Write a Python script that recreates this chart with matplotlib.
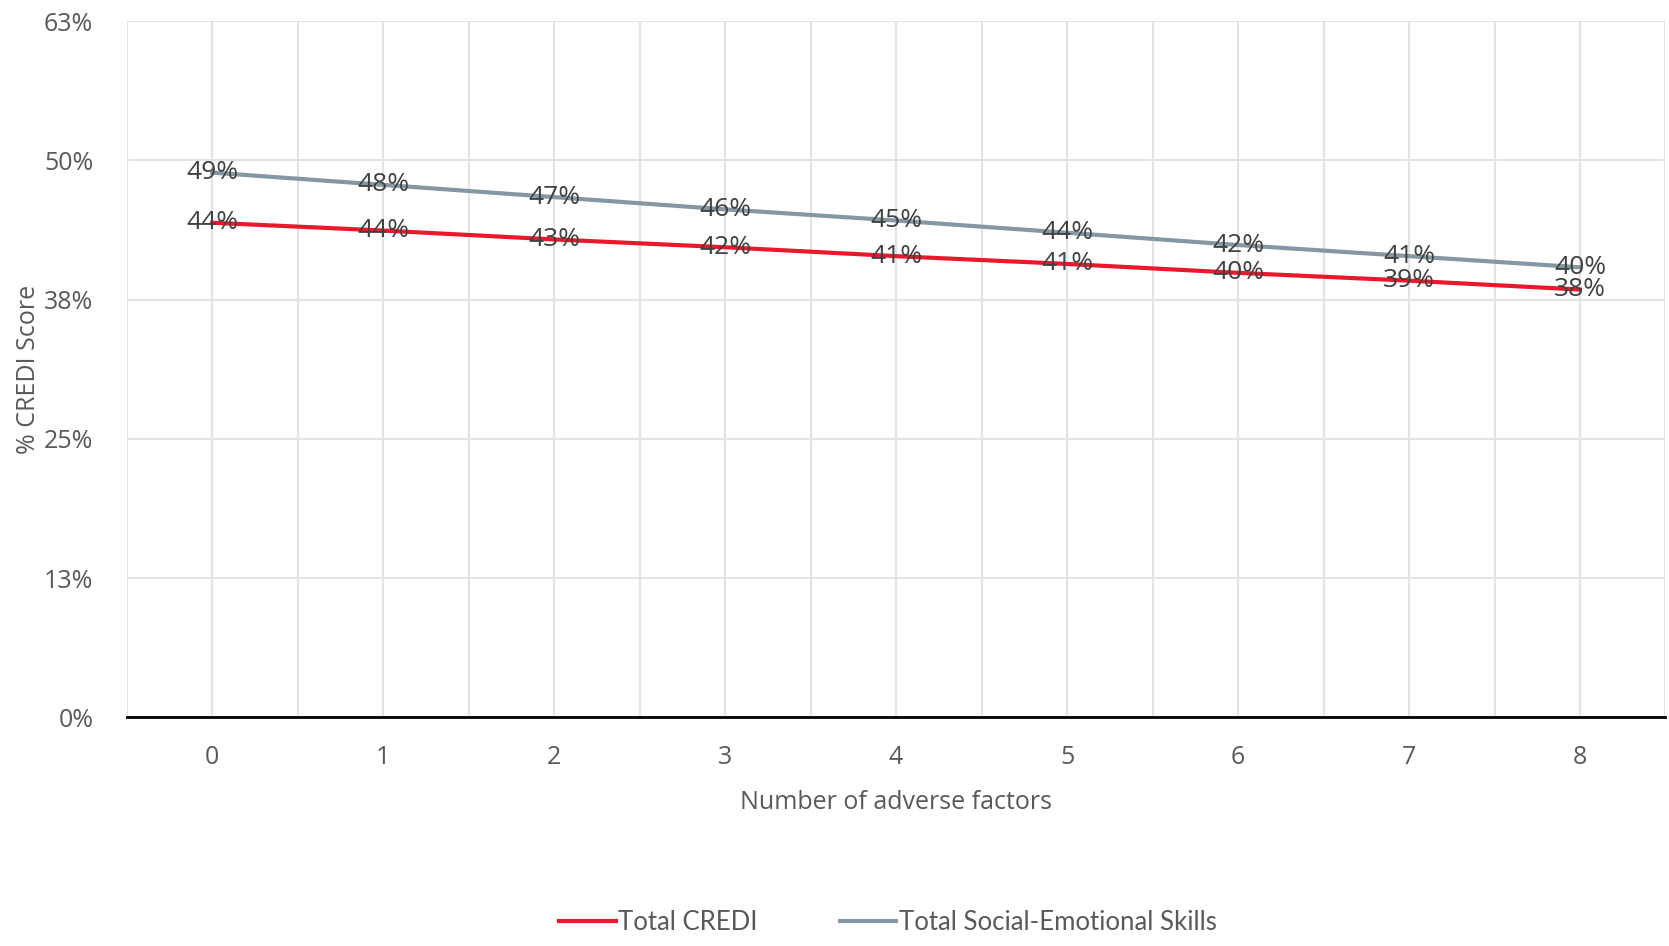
import matplotlib.pyplot as plt
import numpy as np

# Data
factors = [0, 1, 2, 3, 4, 5, 6, 7, 8]
credi = [0.444, 0.437, 0.429, 0.422, 0.414, 0.407, 0.399, 0.392, 0.384]
social_emotional = [0.489, 0.478, 0.467, 0.456, 0.446, 0.435, 0.424, 0.414, 0.404]
y_ticks = [0, 0.125, 0.25, 0.375, 0.5, 0.625]
y_tick_labels = ['0%', '13%', '25%', '38%', '50%', '63%']

plt.rcParams['font.family'] = ['Open Sans', 'DejaVu Sans']
text_color = '#595959'
label_color = '#404040'

fig = plt.figure(figsize=(16.69, 9.46), dpi=100)
ax = fig.add_axes([0.0759, 0.2417, 0.922, 0.736])

ax.plot(factors, credi, color='#E8192C', lw=3, label='Total CREDI', zorder=3)
ax.plot(factors, social_emotional, color='#8497A3', lw=3,
        label='Total Social-Emotional Skills', zorder=3)

# Data labels
for x, v in zip(factors, social_emotional):
    ax.text(x, v, f'{round(v * 100):.0f}%', ha='center', va='center',
            fontsize=19, color=label_color, zorder=4)
for x, v in zip(factors, credi):
    ax.text(x, v, f'{round(v * 100):.0f}%', ha='center', va='center',
            fontsize=19, color=label_color, zorder=4)

ax.set_xlim(-0.5, 8.5)
ax.set_ylim(0, 0.625)
ax.set_xticks(factors)
ax.set_xticks(np.arange(-0.5, 9, 1), minor=True)
ax.set_yticks(y_ticks)
ax.set_yticklabels(y_tick_labels)
ax.tick_params(axis='both', which='both', length=0, labelsize=18,
               labelcolor=text_color)
ax.tick_params(axis='x', pad=20)
ax.tick_params(axis='y', pad=24)

ax.grid(True, which='both', color='#E3E3E3', lw=1.5, zorder=0)
for side in ['top', 'right', 'left']:
    ax.spines[side].set_visible(False)
ax.spines['bottom'].set_color('black')
ax.spines['bottom'].set_linewidth(2)
ax.spines['bottom'].set_zorder(5)

ax.set_xlabel('Number of adverse factors', fontsize=18, color=text_color,
              labelpad=14)
ax.set_ylabel('% CREDI Score', fontsize=18, color=text_color, labelpad=2)

fig.legend(loc='center', bbox_to_anchor=(0.532, 0.025), ncol=2, frameon=False,
           handlelength=2.2, handletextpad=0.1, columnspacing=3.2,
           prop={'family': 'Lato', 'size': 18.5}, labelcolor=text_color)

fig.savefig('out.png', dpi=100)
